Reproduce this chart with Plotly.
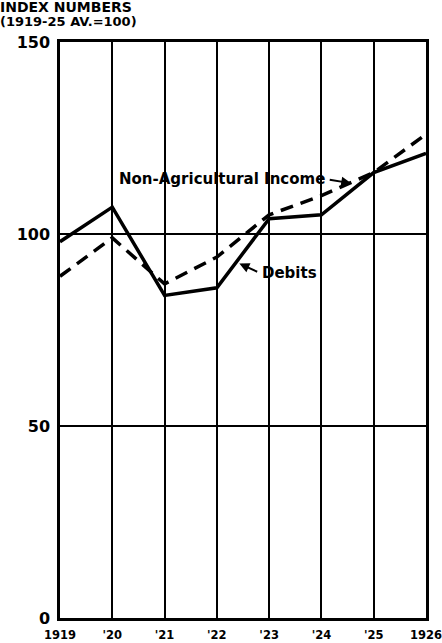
import plotly.graph_objects as go

# Annual index numbers, 1919-25 average = 100
years = [1919, 1920, 1921, 1922, 1923, 1924, 1925, 1926]
debits = [98, 107, 84, 86, 104, 105, 116, 121]
non_agri_income = [89, 99, 87, 94, 105, 110, 116, 126]
x_tick_labels = ["1919", "'20", "'21", "'22", "'23", "'24", "'25", "1926"]
y_tick_values = [0, 50, 100, 150]

FONT = "DejaVu Sans"
INK = "black"

fig = go.Figure()

fig.add_trace(go.Scatter(
    x=years, y=non_agri_income, mode="lines", name="Non-Agricultural Income",
    line=dict(color=INK, width=3.5, dash="13px,8px"),
))
fig.add_trace(go.Scatter(
    x=years, y=debits, mode="lines", name="Debits",
    line=dict(color=INK, width=3.5),
))

label_font = dict(family=FONT, size=15, color=INK)

fig.add_annotation(
    x=1924.1, y=114.2, xref="x", yref="y", text="<b>Non-Agricultural Income</b>",
    showarrow=False, xanchor="right", yanchor="middle", font=label_font,
)
fig.add_annotation(
    x=1924.57, y=113.2, ax=1924.13, ay=114.2, xref="x", yref="y",
    axref="x", ayref="y", text="", showarrow=True,
    arrowhead=2, arrowsize=1, arrowwidth=2, arrowcolor=INK,
)
fig.add_annotation(
    x=1922.83, y=89.8, xref="x", yref="y", text="<b>Debits</b>",
    showarrow=False, xanchor="left", yanchor="middle", font=label_font,
)
fig.add_annotation(
    x=1922.43, y=92.3, ax=1922.8, ay=90.0, xref="x", yref="y",
    axref="x", ayref="y", text="", showarrow=True,
    arrowhead=2, arrowsize=1, arrowwidth=2, arrowcolor=INK,
)

# Two-line axis caption above the value scale
fig.add_annotation(
    x=0, y=1, xref="paper", yref="paper", xshift=-62, yshift=45,
    text="<b>INDEX NUMBERS</b>",
    showarrow=False, xanchor="left", yanchor="top", align="left",
    font=dict(family=FONT, size=14, color=INK),
)
fig.add_annotation(
    x=0, y=1, xref="paper", yref="paper", xshift=-62, yshift=30,
    text="<b>(1919-25 AV.=100)</b>",
    showarrow=False, xanchor="left", yanchor="top", align="left",
    font=dict(family=FONT, size=13, color=INK),
)

fig.update_xaxes(
    range=[1919, 1926], tickmode="array", tickvals=years, ticktext=[f"<b>{t}</b>" for t in x_tick_labels],
    showgrid=True, gridcolor=INK, gridwidth=2, zeroline=False,
    showline=True, linecolor=INK, linewidth=2.5, mirror=True,
    ticks="", tickfont=dict(family=FONT, size=11.5, color=INK),
    ticklabeloverflow="allow", ticklabelstandoff=4, automargin=False,
)
fig.update_yaxes(
    range=[0, 150], tickmode="array", tickvals=y_tick_values,
    ticktext=[f"<b>{v}</b>" for v in y_tick_values],
    showgrid=True, gridcolor=INK, gridwidth=2, zeroline=False,
    showline=True, linecolor=INK, linewidth=2.5, mirror=True,
    ticks="", tickfont=dict(family=FONT, size=16, color=INK),
    ticklabelstandoff=4, automargin=False,
)

fig.update_layout(
    width=442, height=643,
    margin=dict(l=60, r=16, t=42, b=25),
    paper_bgcolor="white", plot_bgcolor="white",
    showlegend=False,
)

fig.write_html("out.html")
